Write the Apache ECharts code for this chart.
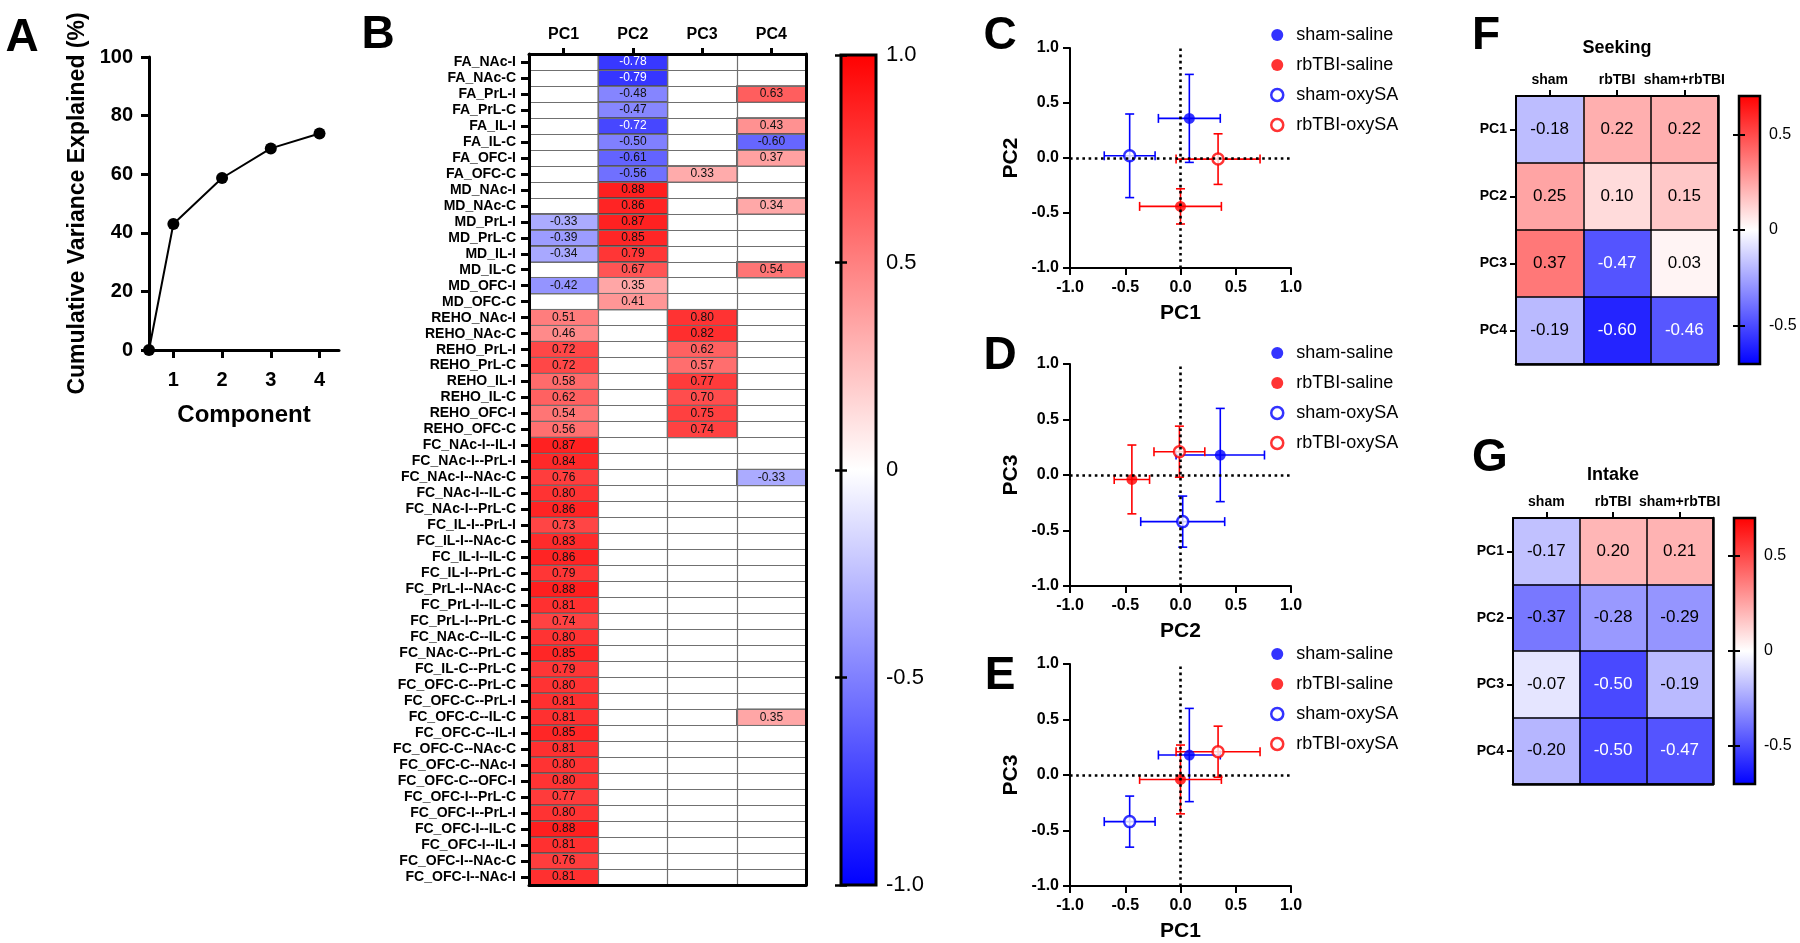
<!DOCTYPE html>
<html><head><meta charset="utf-8">
<script src="https://cdn.jsdelivr.net/npm/echarts@6/dist/echarts.min.js"></script>
<style>html,body{margin:0;padding:0;background:#fff}#c{width:1800px;height:943px}</style>
</head><body><div id="c"></div>
<script>
const FONT = '"Liberation Sans", Arial, Helvetica, sans-serif';
const _ = null;

// ---------- Panel A ----------
const components = [0.5, 1, 2, 3, 4];
const cumVariance = [0, 43.0, 58.7, 68.8, 73.9];
const componentTicks = [1, 2, 3, 4];

// ---------- Panel B ----------
const loadingCols = ['PC1', 'PC2', 'PC3', 'PC4'];
const loadingRows = [
  'FA_NAc-I','FA_NAc-C','FA_PrL-I','FA_PrL-C','FA_IL-I','FA_IL-C','FA_OFC-I','FA_OFC-C',
  'MD_NAc-I','MD_NAc-C','MD_PrL-I','MD_PrL-C','MD_IL-I','MD_IL-C','MD_OFC-I','MD_OFC-C',
  'REHO_NAc-I','REHO_NAc-C','REHO_PrL-I','REHO_PrL-C','REHO_IL-I','REHO_IL-C','REHO_OFC-I','REHO_OFC-C',
  'FC_NAc-I--IL-I','FC_NAc-I--PrL-I','FC_NAc-I--NAc-C','FC_NAc-I--IL-C','FC_NAc-I--PrL-C',
  'FC_IL-I--PrL-I','FC_IL-I--NAc-C','FC_IL-I--IL-C','FC_IL-I--PrL-C',
  'FC_PrL-I--NAc-C','FC_PrL-I--IL-C','FC_PrL-I--PrL-C',
  'FC_NAc-C--IL-C','FC_NAc-C--PrL-C','FC_IL-C--PrL-C',
  'FC_OFC-C--PrL-C','FC_OFC-C--PrL-I','FC_OFC-C--IL-C','FC_OFC-C--IL-I','FC_OFC-C--NAc-C','FC_OFC-C--NAc-I','FC_OFC-C--OFC-I',
  'FC_OFC-I--PrL-C','FC_OFC-I--PrL-I','FC_OFC-I--IL-C','FC_OFC-I--IL-I','FC_OFC-I--NAc-C','FC_OFC-I--NAc-I'
];
const pc1Loadings = [
  _,_,_,_,_,_,_,_,
  _,_,-0.33,-0.39,-0.34,_,-0.42,_,
  0.51,0.46,0.72,0.72,0.58,0.62,0.54,0.56,
  0.87,0.84,0.76,0.80,0.86,0.73,0.83,0.86,0.79,0.88,0.81,0.74,0.80,0.85,0.79,
  0.80,0.81,0.81,0.85,0.81,0.80,0.80,0.77,0.80,0.88,0.81,0.76,0.81
];
const pc2Loadings = [
  -0.78,-0.79,-0.48,-0.47,-0.72,-0.50,-0.61,-0.56,
  0.88,0.86,0.87,0.85,0.79,0.67,0.35,0.41,
  _,_,_,_,_,_,_,_,
  _,_,_,_,_,_,_,_,_,_,_,_,_,_,_,
  _,_,_,_,_,_,_,_,_,_,_,_,_
];
const pc3Loadings = [
  _,_,_,_,_,_,_,0.33,
  _,_,_,_,_,_,_,_,
  0.80,0.82,0.62,0.57,0.77,0.70,0.75,0.74,
  _,_,_,_,_,_,_,_,_,_,_,_,_,_,_,
  _,_,_,_,_,_,_,_,_,_,_,_,_
];
const pc4Loadings = [
  _,_,0.63,_,0.43,-0.60,0.37,_,
  _,0.34,_,_,_,0.54,_,_,
  _,_,_,_,_,_,_,_,
  _,_,-0.33,_,_,_,_,_,_,_,_,_,_,_,_,
  _,_,0.35,_,_,_,_,_,_,_,_,_,_
];
const loadingTicks = [-1, -0.5, 0, 0.5, 1];

// ---------- Panels C-E ----------
const groups = ['sham-saline', 'rbTBI-saline', 'sham-oxySA', 'rbTBI-oxySA'];
const groupColors = ['#0000ff', '#ff0000', '#0000ff', '#ff0000'];
const groupOpen = [false, false, true, true];
const pc1Mean = [0.08, 0.00, -0.46, 0.34];
const pc1Err  = [0.28, 0.37, 0.23, 0.38];
const pc2Mean = [0.36, -0.44, 0.02, -0.01];
const pc2Err  = [0.40, 0.16, 0.38, 0.23];
const pc3Mean = [0.18, -0.04, -0.42, 0.21];
const pc3Err  = [0.42, 0.31, 0.23, 0.23];

// ---------- Panels F, G ----------
const outcomeCols = ['sham', 'rbTBI', 'sham+rbTBI'];
const pcRows = ['PC1', 'PC2', 'PC3', 'PC4'];
const seekingR = [
  [-0.18, 0.22, 0.22],
  [0.25, 0.10, 0.15],
  [0.37, -0.47, 0.03],
  [-0.19, -0.60, -0.46]
];
const intakeR = [
  [-0.17, 0.20, 0.21],
  [-0.37, -0.28, -0.29],
  [-0.07, -0.50, -0.19],
  [-0.20, -0.50, -0.47]
];
const corrTicks = [-0.5, 0, 0.5];

// =====================================================
const chart = echarts.init(document.getElementById('c'), null, {renderer: 'canvas'});
const fmt1 = v => (v === 0 ? '0' : v.toFixed(1));
const grad = () => new echarts.graphic.LinearGradient(0, 0, 0, 1, [
  {offset: 0, color: '#ff0000'}, {offset: 0.5, color: '#ffffff'}, {offset: 1, color: '#0000ff'}
]);

const grids = [
  {left: 149, top: 57, width: 190, height: 293},          // 0 A
  {left: 529, top: 54, width: 277, height: 831},          // 1 B
  {left: 841, top: 55, width: 35, height: 830, show: true, backgroundColor: grad(), borderColor: '#000', borderWidth: 3}, // 2 B colorbar
  {left: 1070, top: 48, width: 221, height: 220},         // 3 C
  {left: 1070, top: 364, width: 221, height: 222},        // 4 D
  {left: 1070, top: 664, width: 221, height: 222},        // 5 E
  {left: 1516, top: 96, width: 202, height: 268},         // 6 F
  {left: 1739, top: 96, width: 21, height: 268, show: true, backgroundColor: grad(), borderColor: '#000', borderWidth: 2.5}, // 7 F cb
  {left: 1513, top: 518, width: 200, height: 266},        // 8 G
  {left: 1734, top: 518, width: 21, height: 266, show: true, backgroundColor: grad(), borderColor: '#000', borderWidth: 2.5}  // 9 G cb
].map(g => Object.assign({containLabel: false, outerBoundsMode: 'none'}, g));

const blk = w => ({show: true, onZero: false, lineStyle: {color: '#000', width: w}});
const hiddenX = gi => ({gridIndex: gi, type: 'value', min: 0, max: 1, show: false});

function sciX(gi, name) {
  return {
    gridIndex: gi, type: 'value', min: -1, max: 1, interval: 0.5,
    axisLine: blk(2), axisTick: {show: true, length: 7, lineStyle: {color: '#000', width: 2}},
    splitLine: {show: false},
    axisLabel: {formatter: v => v.toFixed(1), fontFamily: FONT, fontWeight: 'bold', fontSize: 16, color: '#000', margin: 12},
    name: name, nameLocation: 'middle', nameGap: 35,
    nameTextStyle: {fontFamily: FONT, fontWeight: 'bold', fontSize: 21, color: '#000'}
  };
}
function sciY(gi, name) {
  return {
    gridIndex: gi, type: 'value', min: -1, max: 1, interval: 0.5,
    axisLine: blk(2), axisTick: {show: true, length: 7, lineStyle: {color: '#000', width: 2}},
    splitLine: {show: false},
    axisLabel: {formatter: v => v.toFixed(1), fontFamily: FONT, fontWeight: 'bold', fontSize: 16, color: '#000', margin: 11},
    name: name, nameLocation: 'middle', nameGap: 48,
    nameTextStyle: {fontFamily: FONT, fontWeight: 'bold', fontSize: 21, color: '#000'}
  };
}
function catTop(gi, data, fs, lw, tickLen, margin, split) {
  return {
    gridIndex: gi, type: 'category', data: data, position: 'top', z: 5,
    axisLine: blk(lw), axisTick: {show: true, alignWithLabel: true, length: tickLen, lineStyle: {color: '#000', width: lw}},
    axisLabel: {interval: 0, fontFamily: FONT, fontWeight: 'bold', fontSize: fs, color: '#000', margin: margin},
    splitLine: {show: true, interval: 0, lineStyle: {color: split.c, width: split.w}}
  };
}
function catFrameX(gi, data, lw) {
  return {gridIndex: gi, type: 'category', data: data, position: 'bottom', z: 5,
    axisLine: blk(lw), axisTick: {show: false}, axisLabel: {show: false}, splitLine: {show: false}};
}
function catLeft(gi, data, fs, lw, tickLen, margin, split) {
  return {
    gridIndex: gi, type: 'category', data: data, inverse: true, position: 'left', z: 5,
    axisLine: blk(lw), axisTick: {show: true, alignWithLabel: true, length: tickLen, lineStyle: {color: '#000', width: lw}},
    axisLabel: {interval: 0, fontFamily: FONT, fontWeight: 'bold', fontSize: fs, color: '#000', margin: margin},
    splitLine: {show: true, interval: 0, lineStyle: {color: split.c, width: split.w}}
  };
}
function catFrameY(gi, data, lw) {
  return {gridIndex: gi, type: 'category', data: data, inverse: true, position: 'right', z: 5,
    axisLine: blk(lw), axisTick: {show: false}, axisLabel: {show: false}, splitLine: {show: false}};
}
function cbY(gi, min, max, ticks, fs, tw, margin, withLabels) {
  return {
    gridIndex: gi, type: 'value', min: min, max: max, position: withLabels ? 'right' : 'left',
    axisLine: {show: false},
    axisTick: {show: true, inside: true, length: 6, customValues: ticks, lineStyle: {color: '#000', width: tw}},
    axisLabel: {show: withLabels, customValues: ticks, formatter: fmt1, fontFamily: FONT, fontSize: fs, color: '#000', margin: margin},
    splitLine: {show: false}
  };
}

const xAxes = [
  { // 0 A
    gridIndex: 0, type: 'value', min: 0.5, max: 4.4,
    axisLine: blk(3), axisTick: {show: true, length: 8, customValues: componentTicks, lineStyle: {color: '#000', width: 3}},
    axisLabel: {customValues: componentTicks, fontFamily: FONT, fontWeight: 'bold', fontSize: 20, color: '#000', margin: 20},
    splitLine: {show: false},
    name: 'Component', nameLocation: 'middle', nameGap: 53,
    nameTextStyle: {fontFamily: FONT, fontWeight: 'bold', fontSize: 24, color: '#000'}
  },
  catTop(1, loadingCols, 16, 3, 6, 11, {c: '#707070', w: 1.2}),   // 1
  catFrameX(1, loadingCols, 3),                                     // 2
  hiddenX(2),                                                       // 3
  sciX(3, 'PC1'),                                                   // 4
  sciX(4, 'PC2'),                                                   // 5
  sciX(5, 'PC1'),                                                   // 6
  catTop(6, outcomeCols, 14, 2, 6, 9, {c: '#000', w: 1.5}),        // 7
  catFrameX(6, outcomeCols, 2.5),                                   // 8
  hiddenX(7),                                                       // 9
  catTop(8, outcomeCols, 14, 2, 6, 9, {c: '#000', w: 1.5}),        // 10
  catFrameX(8, outcomeCols, 2.5),                                   // 11
  hiddenX(9)                                                        // 12
];

const yAxes = [
  { // 0 A
    gridIndex: 0, type: 'value', min: 0, max: 100, interval: 20,
    axisLine: blk(3), axisTick: {show: true, length: 8, lineStyle: {color: '#000', width: 3}},
    axisLabel: {fontFamily: FONT, fontWeight: 'bold', fontSize: 20, color: '#000', margin: 16},
    splitLine: {show: false},
    name: 'Cumulative Variance Explained (%)', nameLocation: 'middle', nameGap: 60,
    nameTextStyle: {fontFamily: FONT, fontWeight: 'bold', fontSize: 23, color: '#000'}
  },
  catLeft(1, loadingRows, 14, 3, 8, 13, {c: '#707070', w: 1.2}),   // 1
  catFrameY(1, loadingRows, 3),                                     // 2
  cbY(2, -1, 1, loadingTicks, 22, 2.5, 10, true),                   // 3
  cbY(2, -1, 1, loadingTicks, 22, 2.5, 10, false),                  // 4
  sciY(3, 'PC2'),                                                   // 5
  sciY(4, 'PC3'),                                                   // 6
  sciY(5, 'PC3'),                                                   // 7
  catLeft(6, pcRows, 14, 2, 6, 9, {c: '#000', w: 1.5}),            // 8
  catFrameY(6, pcRows, 2.5),                                        // 9
  cbY(7, -0.7, 0.7, corrTicks, 16, 2, 9, true),                     // 10
  cbY(7, -0.7, 0.7, corrTicks, 16, 2, 9, false),                    // 11
  catLeft(8, pcRows, 14, 2, 6, 9, {c: '#000', w: 1.5}),            // 12
  catFrameY(8, pcRows, 2.5),                                        // 13
  cbY(9, -0.7, 0.7, corrTicks, 16, 2, 9, true),                     // 14
  cbY(9, -0.7, 0.7, corrTicks, 16, 2, 9, false)                     // 15
];

// ---- heatmap data ----
const loadingCols4 = [pc1Loadings, pc2Loadings, pc3Loadings, pc4Loadings];
const bData = [];
loadingCols4.forEach((col, c) => col.forEach((v, r) => {
  if (v !== null) bData.push({value: [c, r, v], label: {color: v <= -0.7 ? '#ffffff' : '#111111'}});
}));
function corrData(m) {
  const out = [];
  m.forEach((row, r) => row.forEach((v, c) => out.push({value: [c, r, v], label: {color: v <= -0.45 ? '#ffffff' : '#000000'}})));
  return out;
}

const series = [
  { // 0 A
    type: 'line', xAxisIndex: 0, yAxisIndex: 0, clip: false,
    data: components.map((c, i) => [c, cumVariance[i]]),
    symbol: 'circle', symbolSize: 12, itemStyle: {color: '#000'}, lineStyle: {color: '#000', width: 2}
  },
  { // 1 B heatmap
    type: 'heatmap', xAxisIndex: 1, yAxisIndex: 1, data: bData,
    label: {show: true, formatter: p => p.value[2].toFixed(2), fontFamily: FONT, fontSize: 12},
    itemStyle: {borderColor: '#444', borderWidth: 0.8}
  },
  { // 2 F
    type: 'heatmap', xAxisIndex: 7, yAxisIndex: 8, data: corrData(seekingR),
    label: {show: true, formatter: p => p.value[2].toFixed(2), fontFamily: FONT, fontSize: 17}
  },
  { // 3 G
    type: 'heatmap', xAxisIndex: 10, yAxisIndex: 12, data: corrData(intakeR),
    label: {show: true, formatter: p => p.value[2].toFixed(2), fontFamily: FONT, fontSize: 17}
  }
];

function renderErr(params, api) {
  const x = api.value(0), y = api.value(1), ex = api.value(2), ey = api.value(3), gi = api.value(4);
  const l = api.coord([x - ex, y]), r = api.coord([x + ex, y]);
  const t = api.coord([x, y + ey]), b = api.coord([x, y - ey]);
  const cap = 4.5;
  const style = {stroke: groupColors[gi], lineWidth: 1.6, fill: null};
  const ln = (x1, y1, x2, y2) => ({type: 'line', shape: {x1, y1, x2, y2}, style});
  return {type: 'group', children: [
    ln(l[0], l[1], r[0], r[1]),
    ln(l[0], l[1] - cap, l[0], l[1] + cap),
    ln(r[0], r[1] - cap, r[0], r[1] + cap),
    ln(t[0], t[1], b[0], b[1]),
    ln(t[0] - cap, t[1], t[0] + cap, t[1]),
    ln(b[0] - cap, b[1], b[0] + cap, b[1])
  ]};
}

const panels = [
  {xi: 4, yi: 5, xm: pc1Mean, xe: pc1Err, ym: pc2Mean, ye: pc2Err},
  {xi: 5, yi: 6, xm: pc2Mean, xe: pc2Err, ym: pc3Mean, ye: pc3Err},
  {xi: 6, yi: 7, xm: pc1Mean, xe: pc1Err, ym: pc3Mean, ye: pc3Err}
];
panels.forEach(p => {
  series.push({
    type: 'custom', xAxisIndex: p.xi, yAxisIndex: p.yi, z: 2, silent: true,
    dimensions: ['x', 'y', 'ex', 'ey', 'g'], encode: {x: 0, y: 1},
    renderItem: renderErr,
    data: groups.map((g, i) => [p.xm[i], p.ym[i], p.xe[i], p.ye[i], i]),
    markLine: {
      silent: true, symbol: ['none', 'none'], label: {show: false},
      lineStyle: {color: '#000', width: 2.6, type: [2.6, 3.6]},
      data: [{xAxis: 0}, {yAxis: 0}]
    }
  });
  groups.forEach((g, i) => {
    series.push({
      type: 'scatter', name: g, xAxisIndex: p.xi, yAxisIndex: p.yi, z: 4, clip: false,
      symbol: 'circle', symbolSize: 11,
      itemStyle: groupOpen[i]
        ? {color: '#ffffff', borderColor: groupColors[i], borderWidth: 2.5}
        : {color: groupColors[i], borderWidth: 0},
      data: [[p.xm[i], p.ym[i]]]
    });
  });
});

const legendData = groups.map((g, i) => ({
  name: g,
  itemStyle: groupOpen[i]
    ? {color: '#ffffff', borderColor: groupColors[i], borderWidth: 2.5}
    : {color: groupColors[i], borderWidth: 0}
}));
const legends = [21, 339, 640].map(top => ({
  left: 1265, top: top, orient: 'vertical', icon: 'circle',
  itemWidth: 28, itemHeight: 12, itemGap: 12, selectedMode: false,
  textStyle: {fontFamily: FONT, fontSize: 18, color: '#000', lineHeight: 18},
  data: legendData
}));

const txt = (s, x, y, fs) => ({
  type: 'text', x: x, y: y, silent: true,
  style: {text: s, fontFamily: FONT, fontWeight: 'bold', fontSize: fs, fill: '#000', align: 'center', verticalAlign: 'middle'}
});
const graphics = [
  txt('A', 22, 38, 46), txt('B', 378, 35, 46), txt('C', 1000, 36, 46),
  txt('D', 1000, 356, 46), txt('E', 1000, 676, 46), txt('F', 1486, 36, 46), txt('G', 1490, 458, 46),
  txt('Seeking', 1617, 48, 18), txt('Intake', 1613, 475, 18)
];

chart.setOption({
  backgroundColor: '#ffffff',
  animation: false,
  textStyle: {fontFamily: FONT},
  grid: grids,
  xAxis: xAxes,
  yAxis: yAxes,
  visualMap: [
    {type: 'continuous', show: false, min: -1, max: 1, seriesIndex: 1, inRange: {color: ['#0000ff', '#ffffff', '#ff0000']}},
    {type: 'continuous', show: false, min: -0.7, max: 0.7, seriesIndex: [2, 3], inRange: {color: ['#0000ff', '#ffffff', '#ff0000']}}
  ],
  legend: legends,
  series: series,
  graphic: graphics
});
</script>
</body></html>
